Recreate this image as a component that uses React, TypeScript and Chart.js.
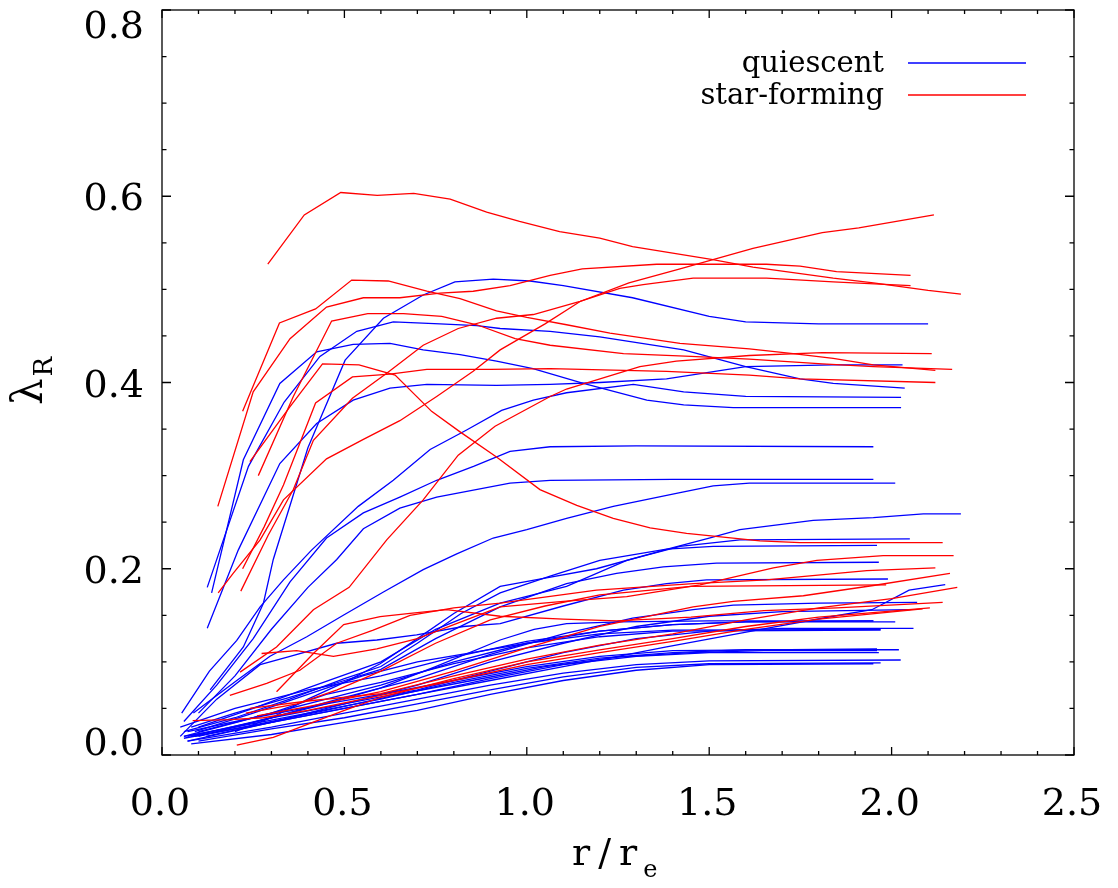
import React, { useEffect, useRef } from 'react';
import { Chart, registerables } from 'chart.js';

Chart.register(...registerables);

// ---------- axes ----------
const X_MIN = 0;
const X_MAX = 2.5;
const Y_MIN = 0;
const Y_MAX = 0.8;
const xTickValues = [0, 0.5, 1.0, 1.5, 2.0, 2.5];
const xTickLabels = ['0.0', '0.5', '1.0', '1.5', '2.0', '2.5'];
const xMinorTicks = [0.1, 0.2, 0.3, 0.4, 0.6, 0.7, 0.8, 0.9, 1.1, 1.2, 1.3, 1.4, 1.6, 1.7, 1.8, 1.9, 2.1, 2.2, 2.3, 2.4];
const yTickValues = [0, 0.2, 0.4, 0.6, 0.8];
const yTickLabels = ['0.0', '0.2', '0.4', '0.6', '0.8'];
const yMinorTicks = [0.05, 0.1, 0.15, 0.25, 0.3, 0.35, 0.45, 0.5, 0.55, 0.65, 0.7, 0.75];
const xTitle = 'r/r';
const xTitleSub = 'e';
const yTitle = 'λ';
const yTitleSub = 'R';
const legendLabels = ['quiescent', 'star-forming'];

// ---------- quiescent profiles [r/re, lambda_R] ----------
const q01 = [[0.132,0.07],[0.223,0.116],[0.278,0.163],[0.305,0.21],[0.4,0.33],[0.502,0.424],[0.607,0.469],[0.716,0.494],[0.803,0.508],[0.908,0.511],[1.009,0.509],[1.1,0.504],[1.29,0.491],[1.5,0.471],[1.6,0.465],[1.8,0.463],[2.1,0.463]];
const q02 = [[0.124,0.18],[0.237,0.31],[0.335,0.379],[0.433,0.428],[0.534,0.455],[0.634,0.465],[0.762,0.463],[0.863,0.461],[0.927,0.458],[1.064,0.455],[1.2,0.449],[1.43,0.435],[1.6,0.417],[1.749,0.404],[1.84,0.399],[2.036,0.394]];
const q03 = [[0.136,0.174],[0.223,0.317],[0.323,0.399],[0.424,0.433],[0.524,0.441],[0.625,0.442],[0.716,0.435],[0.817,0.43],[0.917,0.423],[1.017,0.415],[1.155,0.399],[1.329,0.381],[1.43,0.376],[1.566,0.373],[2.026,0.373]];
const q04 = [[0.124,0.136],[0.209,0.22],[0.323,0.313],[0.424,0.356],[0.524,0.381],[0.625,0.394],[0.726,0.398],[0.917,0.397],[1.064,0.398],[1.2,0.4],[1.383,0.404],[1.6,0.417],[1.84,0.419],[2.03,0.419]];
const q05 = [[0.054,0.045],[0.13,0.09],[0.205,0.123],[0.269,0.159],[0.333,0.188],[0.41,0.22],[0.538,0.267],[0.634,0.295],[0.735,0.328],[0.835,0.349],[0.931,0.37],[1.018,0.381],[1.109,0.389],[1.292,0.398],[1.43,0.39],[1.6,0.385],[2.026,0.384]];
const q06 = [[0.06,0.036],[0.15,0.075],[0.25,0.125],[0.351,0.186],[0.451,0.233],[0.552,0.26],[0.652,0.277],[0.753,0.295],[0.854,0.31],[0.954,0.326],[1.064,0.331],[1.3,0.332],[1.95,0.331]];
const q07 = [[0.1,0.045],[0.2,0.085],[0.3,0.135],[0.4,0.18],[0.479,0.21],[0.552,0.243],[0.652,0.265],[0.753,0.277],[0.954,0.292],[1.064,0.295],[1.4,0.296],[1.95,0.296]];
const q08 = [[0.086,0.045],[0.205,0.08],[0.296,0.106],[0.397,0.127],[0.497,0.15],[0.607,0.175],[0.716,0.199],[0.808,0.216],[0.908,0.233],[1.0,0.242],[1.109,0.254],[1.237,0.267],[1.41,0.281],[1.511,0.289],[1.61,0.292],[2.01,0.292]];
const q09 = [[0.2,0.025],[0.3,0.04],[0.4,0.06],[0.5,0.078],[0.598,0.098],[0.7,0.125],[0.8,0.152],[0.927,0.181],[1.05,0.19],[1.191,0.2],[1.393,0.222],[1.5,0.233],[1.584,0.242],[1.785,0.252],[1.95,0.255],[2.087,0.259],[2.19,0.259]];
const q10 = [[0.1,0.03],[0.25,0.05],[0.4,0.072],[0.6,0.1],[0.75,0.135],[0.927,0.163],[1.109,0.181],[1.274,0.209],[1.42,0.224],[1.584,0.231],[2.05,0.232]];
const q11 = [[0.06,0.025],[0.2,0.04],[0.35,0.06],[0.5,0.082],[0.6,0.095],[0.7,0.12],[0.82,0.152],[0.927,0.174],[1.064,0.192],[1.2,0.209],[1.383,0.221],[1.511,0.224],[1.96,0.225]];
const q12 = [[0.08,0.03],[0.2,0.045],[0.35,0.062],[0.5,0.08],[0.6,0.092],[0.75,0.125],[0.927,0.159],[1.109,0.184],[1.246,0.195],[1.374,0.202],[1.52,0.206],[1.965,0.207]];
const q13 = [[0.05,0.02],[0.15,0.06],[0.269,0.097],[0.351,0.106],[0.479,0.12],[0.589,0.1235],[0.698,0.129],[0.826,0.138],[0.927,0.141],[1.1,0.16],[1.265,0.177],[1.383,0.184],[1.493,0.188],[1.99,0.189]];
const q14 = [[0.07,0.015],[0.3,0.035],[0.5,0.05],[0.7,0.065],[0.9,0.08],[1.1,0.095],[1.25,0.106],[1.383,0.116],[1.52,0.126],[1.657,0.136],[1.84,0.149],[1.946,0.156],[2.048,0.177],[2.147,0.183]];
const q15 = [[0.1,0.02],[0.3,0.04],[0.5,0.062],[0.7,0.082],[0.9,0.108],[1.1,0.13],[1.29,0.147],[1.456,0.156],[1.566,0.161],[1.8,0.163],[2.07,0.164]];
const q16 = [[0.12,0.02],[0.3,0.035],[0.5,0.055],[0.7,0.075],[0.9,0.1],[1.1,0.12],[1.3,0.138],[1.5,0.149],[1.7,0.154],[2.05,0.156]];
const q17 = [[0.07,0.02],[0.25,0.035],[0.45,0.055],[0.6,0.072],[0.75,0.095],[0.927,0.1235],[1.02,0.135],[1.109,0.141],[1.255,0.143],[1.5,0.144],[1.95,0.144]];
const q18 = [[0.06,0.02],[0.25,0.04],[0.45,0.06],[0.6,0.075],[0.8,0.1],[1.0,0.12],[1.2,0.133],[1.4,0.14],[1.6,0.143],[2.01,0.143]];
const q19 = [[0.08,0.02],[0.3,0.04],[0.5,0.055],[0.7,0.07],[0.9,0.09],[1.1,0.11],[1.3,0.125],[1.5,0.133],[1.7,0.136],[2.06,0.136]];
const q20 = [[0.1,0.025],[0.3,0.045],[0.45,0.065],[0.6,0.078],[0.8,0.098],[1.0,0.115],[1.2,0.127],[1.4,0.133],[1.97,0.134]];
const q21 = [[0.07,0.025],[0.25,0.04],[0.45,0.055],[0.6,0.065],[0.8,0.08],[1.0,0.095],[1.2,0.106],[1.4,0.112],[1.96,0.114]];
const q22 = [[0.06,0.02],[0.2,0.03],[0.4,0.045],[0.6,0.06],[0.8,0.078],[1.0,0.093],[1.2,0.104],[1.4,0.11],[1.6,0.113],[2.02,0.113]];
const q23 = [[0.09,0.02],[0.3,0.035],[0.5,0.05],[0.7,0.065],[0.9,0.082],[1.1,0.097],[1.3,0.106],[1.5,0.11],[1.965,0.11]];
const q24 = [[0.07,0.015],[0.3,0.03],[0.5,0.045],[0.7,0.06],[0.9,0.075],[1.1,0.088],[1.3,0.097],[1.5,0.101],[2.025,0.102]];
const q25 = [[0.1,0.015],[0.3,0.028],[0.5,0.04],[0.7,0.055],[0.9,0.07],[1.1,0.084],[1.3,0.094],[1.5,0.098],[1.97,0.099]];
const q26 = [[0.08,0.012],[0.3,0.022],[0.5,0.035],[0.7,0.048],[0.9,0.065],[1.1,0.08],[1.3,0.091],[1.5,0.097],[1.95,0.098]];
const q27 = [[0.05,0.03],[0.2,0.05],[0.4,0.07],[0.6,0.085],[0.8,0.105],[1.0,0.122],[1.2,0.133],[1.4,0.14],[1.6,0.143],[1.95,0.144]];
const q28 = [[0.06,0.018],[0.25,0.032],[0.45,0.048],[0.65,0.065],[0.85,0.08],[1.05,0.095],[1.25,0.105],[1.45,0.11],[1.65,0.112],[1.96,0.112]];
const q29 = [[0.09,0.025],[0.25,0.045],[0.4,0.065],[0.55,0.085],[0.7,0.1],[0.85,0.11],[1.0,0.12],[1.2,0.13],[1.4,0.134],[1.97,0.135]];

// ---------- star-forming profiles ----------
const s01 = [[0.29,0.527],[0.39,0.58],[0.49,0.604],[0.59,0.601],[0.69,0.603],[0.79,0.597],[0.89,0.583],[0.98,0.573],[1.09,0.562],[1.2,0.555],[1.29,0.546],[1.4,0.539],[1.51,0.532],[1.62,0.524],[1.73,0.518],[1.84,0.512],[1.95,0.507],[2.1,0.499],[2.19,0.495]];
const s02 = [[0.221,0.369],[0.322,0.464],[0.421,0.479],[0.52,0.51],[0.62,0.509],[0.726,0.498],[0.817,0.49],[0.917,0.477],[1.0,0.47],[1.109,0.462],[1.228,0.453],[1.42,0.442],[1.61,0.436],[1.73,0.431],[1.84,0.426],[1.95,0.419],[2.12,0.413]];
const s03 = [[0.153,0.267],[0.25,0.39],[0.351,0.447],[0.451,0.481],[0.552,0.491],[0.652,0.491],[0.762,0.496],[0.853,0.498],[0.954,0.504],[1.064,0.515],[1.152,0.522],[1.356,0.527],[1.657,0.527],[1.749,0.525],[1.849,0.519],[2.052,0.515]];
const s04 = [[0.241,0.315],[0.351,0.374],[0.44,0.42],[0.54,0.419],[0.639,0.408],[0.739,0.369],[0.817,0.347],[0.917,0.32],[1.036,0.285],[1.137,0.268],[1.237,0.254],[1.338,0.244],[1.438,0.238],[1.639,0.23],[1.749,0.228],[2.14,0.228]];
const s05 = [[0.264,0.3],[0.36,0.385],[0.465,0.466],[0.564,0.474],[0.662,0.474],[0.767,0.471],[0.863,0.462],[0.968,0.447],[1.064,0.44],[1.265,0.431],[1.45,0.428],[1.61,0.425],[1.81,0.42],[1.95,0.417],[2.166,0.414]];
const s06 = [[0.154,0.174],[0.195,0.195],[0.269,0.231],[0.333,0.274],[0.451,0.318],[0.552,0.339],[0.652,0.359],[0.753,0.385],[0.853,0.412],[0.927,0.435],[1.05,0.463],[1.146,0.487],[1.28,0.507],[1.42,0.522],[1.62,0.544],[1.81,0.561],[1.91,0.566],[2.116,0.58]];
const s07 = [[0.216,0.176],[0.291,0.236],[0.36,0.285],[0.415,0.338],[0.522,0.383],[0.616,0.41],[0.716,0.44],[0.812,0.458],[0.917,0.469],[1.018,0.473],[1.146,0.487],[1.255,0.501],[1.319,0.505],[1.456,0.512],[1.657,0.512],[1.84,0.508],[2.052,0.504]];
const s08 = [[0.221,0.2],[0.28,0.245],[0.333,0.29],[0.421,0.378],[0.522,0.406],[0.625,0.409],[0.726,0.414],[0.9,0.414],[1.064,0.415],[1.383,0.412],[1.61,0.408],[1.749,0.404],[2.12,0.4]];
const s09 = [[0.214,0.089],[0.314,0.116],[0.415,0.156],[0.513,0.18],[0.616,0.231],[0.716,0.274],[0.812,0.322],[0.913,0.353],[1.064,0.385],[1.109,0.393],[1.31,0.417],[1.41,0.423],[1.61,0.429],[1.81,0.432],[2.11,0.431]];
const s10 = [[0.186,0.064],[0.287,0.077],[0.378,0.091],[0.479,0.12],[0.579,0.134],[0.68,0.15],[0.8,0.158],[0.927,0.163],[1.191,0.177],[1.456,0.184],[1.657,0.188],[1.932,0.198],[2.12,0.201]];
const s11 = [[0.273,0.109],[0.369,0.112],[0.47,0.106],[0.589,0.114],[0.7,0.125],[0.8,0.14],[0.927,0.159],[1.1,0.165],[1.274,0.17],[1.475,0.1826],[1.676,0.201],[1.795,0.209],[1.977,0.214],[2.17,0.214]];
const s12 = [[0.314,0.068],[0.415,0.109],[0.498,0.14],[0.598,0.1485],[0.68,0.152],[0.78,0.156],[0.927,0.149],[1.1,0.146],[1.246,0.144],[1.45,0.148],[1.65,0.155],[1.85,0.158],[2.14,0.164]];
const s13 = [[0.23,0.045],[0.37,0.055],[0.48,0.07],[0.6,0.09],[0.75,0.12],[0.9,0.145],[1.05,0.16],[1.2,0.172],[1.45,0.181],[1.985,0.1826]];
const s14 = [[0.26,0.042],[0.4,0.052],[0.6,0.068],[0.8,0.09],[1.0,0.115],[1.2,0.138],[1.456,0.159],[1.566,0.165],[1.758,0.171],[1.95,0.182],[2.16,0.195]];
const s15 = [[0.241,0.05],[0.4,0.058],[0.6,0.066],[0.8,0.085],[1.0,0.103],[1.2,0.118],[1.4,0.13],[1.6,0.145],[1.8,0.158],[2.0,0.168],[2.18,0.18]];
const s16 = [[0.205,0.0107],[0.305,0.019],[0.406,0.034],[0.5,0.048],[0.6,0.062],[0.8,0.082],[1.0,0.1],[1.2,0.113],[1.4,0.125],[1.6,0.138],[1.8,0.148],[2.105,0.158]];
const s17 = [[0.084,0.037],[0.186,0.038],[0.278,0.04],[0.4,0.048],[0.6,0.064],[0.8,0.08],[1.0,0.097],[1.2,0.11],[1.4,0.122],[1.6,0.135],[1.8,0.146],[2.085,0.157]];

const quiescent = [q01,q02,q03,q04,q05,q06,q07,q08,q09,q10,q11,q12,q13,q14,q15,q16,q17,q18,q19,q20,q21,q22,q23,q24,q25,q26,q27,q28,q29];
const starForming = [s01,s02,s03,s04,s05,s06,s07,s08,s09,s10,s11,s12,s13,s14,s15,s16,s17];

const BLUE = '#0000ff';
const RED = '#ff0000';
const FONT = "'DejaVu Serif', 'Liberation Serif', serif";

const idlAxes = {
  id: 'idlAxes',
  afterDatasetsDraw(chart: any) {
    const { ctx, chartArea } = chart;
    const { left, right, top, bottom } = chartArea;
    const xs = chart.scales.x;
    const ys = chart.scales.y;
    ctx.save();
    // frame
    ctx.strokeStyle = '#000';
    ctx.lineWidth = 1.3;
    ctx.strokeRect(left, top, right - left, bottom - top);
    // ticks (inward, mirrored)
    ctx.beginPath();
    const xt = (v: number, len: number) => {
      const p = xs.getPixelForValue(v);
      ctx.moveTo(p, bottom); ctx.lineTo(p, bottom - len);
      ctx.moveTo(p, top); ctx.lineTo(p, top + len);
    };
    const yt = (v: number, len: number) => {
      const p = ys.getPixelForValue(v);
      ctx.moveTo(left, p); ctx.lineTo(left + len, p);
      ctx.moveTo(right, p); ctx.lineTo(right - len, p);
    };
    xTickValues.forEach((v) => xt(v, 8));
    xMinorTicks.forEach((v) => xt(v, 4));
    yTickValues.forEach((v) => yt(v, 9));
    yMinorTicks.forEach((v) => yt(v, 4.5));
    ctx.stroke();

    // tick labels
    ctx.fillStyle = '#000';
    ctx.font = `38px ${FONT}`;
    ctx.textBaseline = 'alphabetic';
    ctx.textAlign = 'center';
    xTickValues.forEach((v, i) => {
      ctx.fillText(xTickLabels[i], xs.getPixelForValue(v) - 2, bottom + 60);
    });
    ctx.textAlign = 'right';
    yTickValues.forEach((v, i) => {
      let c = ys.getPixelForValue(v);
      c = Math.min(Math.max(c, top + 14), bottom - 14);
      ctx.fillText(yTickLabels[i], left - 18, c + 14);
    });

    // x title
    ctx.textAlign = 'left';
    ctx.font = `38px ${FONT}`;
    try { (ctx as any).letterSpacing = '8px'; } catch (e) {}
    const tx = 572;
    ctx.fillText(xTitle, tx, bottom + 110);
    const w = ctx.measureText(xTitle).width;
    try { (ctx as any).letterSpacing = '0px'; } catch (e) {}
    ctx.font = `24px ${FONT}`;
    ctx.fillText(xTitleSub, tx + w - 2, bottom + 122);

    // y title (rotated)
    ctx.save();
    ctx.translate(42, 405);
    ctx.rotate(-Math.PI / 2);
    ctx.font = `42px ${FONT}`;
    ctx.fillText(yTitle, 0, 0);
    const lw = ctx.measureText(yTitle).width;
    ctx.font = `26px ${FONT}`;
    ctx.fillText(yTitleSub, lw + 2, 10);
    ctx.restore();

    // legend
    ctx.font = `29px ${FONT}`;
    ctx.textAlign = 'right';
    const legendColors = [BLUE, RED];
    const legendY = [63, 95];
    legendLabels.forEach((lab, i) => {
      ctx.fillStyle = '#000';
      ctx.fillText(lab, 884, legendY[i] + 9);
      ctx.strokeStyle = legendColors[i];
      ctx.lineWidth = 1.3;
      ctx.beginPath();
      ctx.moveTo(908, legendY[i]);
      ctx.lineTo(1026, legendY[i]);
      ctx.stroke();
    });
    ctx.restore();
  },
};

export default function App() {
  const ref = useRef<HTMLCanvasElement>(null);
  useEffect(() => {
    const toDs = (p: number[][], color: string) => ({
      data: p.map(([x, y]) => ({ x, y })),
      borderColor: color,
      backgroundColor: color,
      borderWidth: 1.3,
      pointRadius: 0,
      pointHoverRadius: 0,
      fill: false,
      tension: 0,
    });
    const datasets = [
      ...starForming.map((p) => toDs(p, RED)),
      ...quiescent.map((p) => toDs(p, BLUE)),
    ];
    const chart = new Chart(ref.current as HTMLCanvasElement, {
      type: 'line',
      data: { datasets },
      options: {
        animation: false,
        responsive: false,
        devicePixelRatio: 1,
        events: [],
        layout: { padding: { top: 10, right: 44, left: 0, bottom: 0 } },
        plugins: { legend: { display: false }, tooltip: { enabled: false } },
        scales: {
          x: {
            type: 'linear',
            min: X_MIN,
            max: X_MAX,
            ticks: { display: false },
            grid: { display: false, drawTicks: false },
            border: { display: false },
            afterFit: (s: any) => { s.height = 133; },
          },
          y: {
            type: 'linear',
            min: Y_MIN,
            max: Y_MAX,
            ticks: { display: false },
            grid: { display: false, drawTicks: false },
            border: { display: false },
            afterFit: (s: any) => { s.width = 162; },
          },
        },
      } as any,
      plugins: [idlAxes],
    });
    return () => chart.destroy();
  }, []);
  return (
    <div style={{ position: 'fixed', left: 0, top: 0, width: 1118, height: 888, background: '#fff' }}>
      <canvas ref={ref} width={1118} height={888} style={{ display: 'block', width: 1118, height: 888 }} />
    </div>
  );
}
